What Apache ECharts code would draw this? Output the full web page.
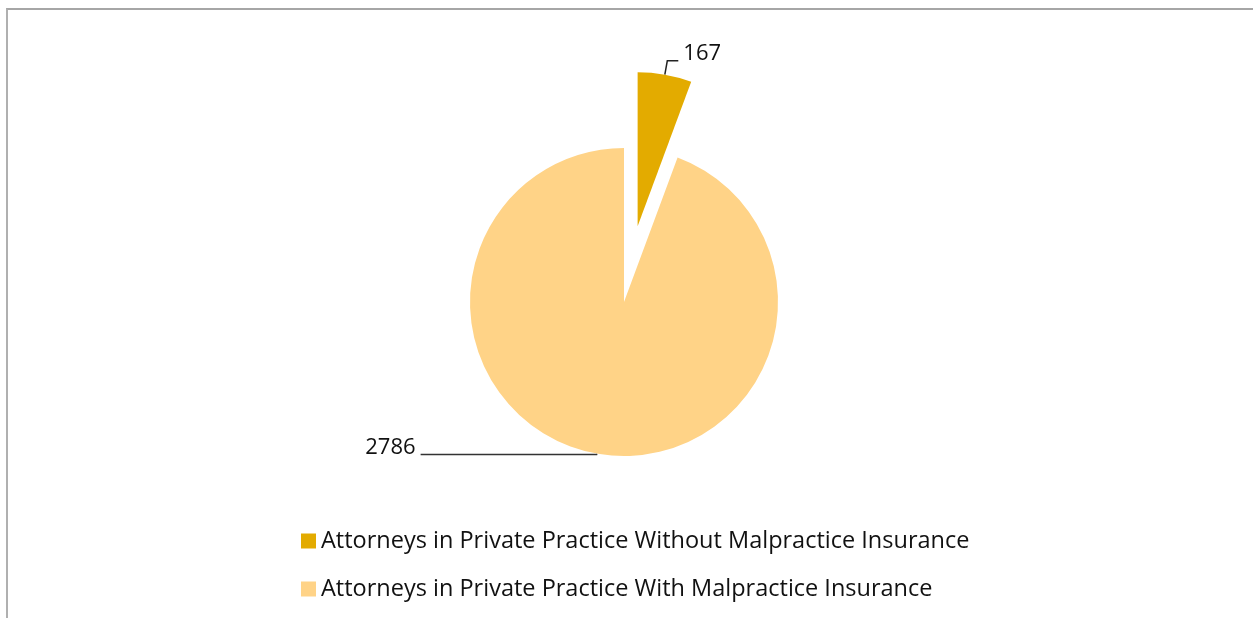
<!DOCTYPE html>
<html>
<head>
<meta charset="utf-8">
<script src="https://cdn.jsdelivr.net/npm/echarts@6/dist/echarts.min.js"></script>
<style>
  html, body { margin: 0; padding: 0; background: #fff; }
  .frame {
    position: absolute; left: 6px; top: 8px; width: 1400px; height: 800px;
    border-top: 2px solid #a6a6a6; border-left: 2px solid #b0b0b0;
  }
  .com-echart { position: absolute; left: 0; top: 0; width: 1253px; height: 618px; }
</style>
</head>
<body>
<div class="frame"></div>
<div class="com-echart" id="pie"></div>
<script>
// 数据
const categories = [
  "Attorneys in Private Practice Without Malpractice Insurance",
  "Attorneys in Private Practice With Malpractice Insurance",
];
const values = [167, 2786];
const colors = ["#E3AB00", "#FFD387"];

const mychart = echarts.init(document.getElementById("pie"));
const font = "'Open Sans', 'Noto Sans', sans-serif";

const option = {
  animation: false,
  legend: {
    orient: "vertical",
    left: 301,
    top: 529,
    padding: 0,
    icon: "rect",
    itemWidth: 15,
    itemHeight: 15,
    itemGap: 24,
    selectedMode: false,
    textStyle: { fontFamily: font, fontSize: 23.5, color: "#111" },
    data: categories,
  },
  series: [
    {
      type: "pie",
      center: [624, 302],
      radius: 154,
      startAngle: 90,
      clockwise: true,
      selectedMode: "single",
      selectedOffset: 77,
      emphasis: { disabled: true },
      label: {
        show: true,
        formatter: "{c}\n ", // 第二行空行，使数字略高于引导线
        fontFamily: font,
        fontSize: 22,
        lineHeight: 14,
        color: "#111",
      },
      data: categories.map((name, i) => {
        const item = {
          name: name,
          value: values[i],
          selected: i === 0,
          itemStyle: { color: colors[i] },
        };
        // 标签引导线
        if (i === 0) {
          item.labelLine = { length: 14, length2: 11, lineStyle: { color: "#222", width: 1.5 } };
        } else {
          item.labelLine = { length: 1, length2: 176, lineStyle: { color: "#333", width: 1.5 } };
        }
        return item;
      }),
    },
  ],
};
mychart.setOption(option);
</script>
</body>
</html>
